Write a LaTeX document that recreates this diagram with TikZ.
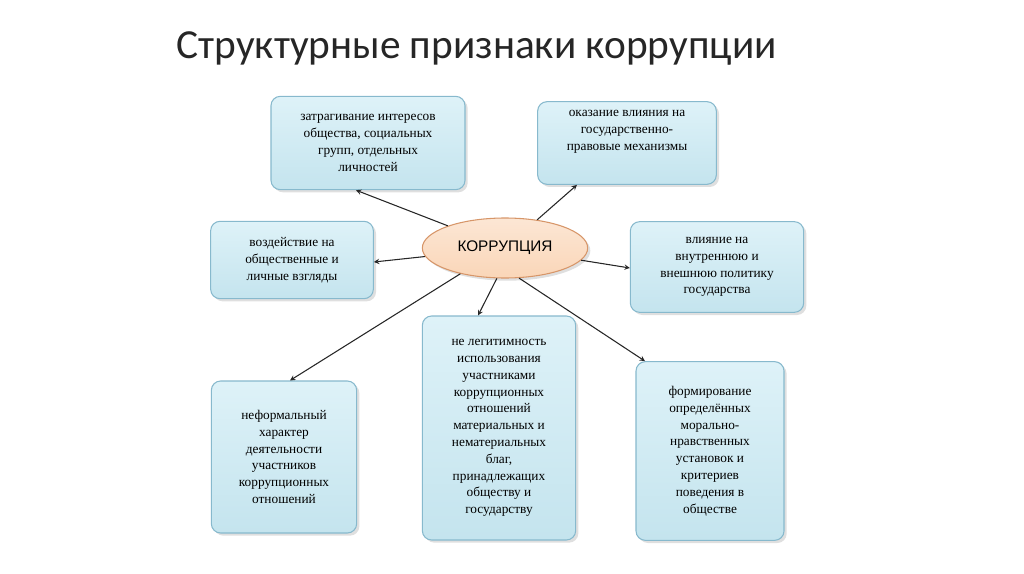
\documentclass[tikz,border=0pt]{standalone}
\usepackage{fontspec}
\setmainfont{Liberation Serif}
\newfontfamily\titlefont{Carlito}
\newfontfamily\ellfont{Liberation Sans}
\usetikzlibrary{shapes.geometric,shadows,calc}
\definecolor{boxfill}{RGB}{196,228,238}
\definecolor{boxtop}{RGB}{222,242,248}
\definecolor{boxline}{RGB}{135,185,205}
\definecolor{ellfill}{RGB}{250,214,184}
\definecolor{ellline}{RGB}{215,150,105}
\begin{document}
\begin{tikzpicture}[x=0.75pt,y=-0.75pt,
  infobox/.style={draw=boxline,line width=0.8pt,rounded corners=7pt,top color=boxtop,bottom color=boxfill,
    drop shadow={shadow xshift=2pt,shadow yshift=-2pt,opacity=0.25},
    align=center,font=\fontsize{10}{12.6}\selectfont,inner sep=2pt},
  conn/.style={-stealth,line width=0.8pt,black!85}]
\useasboundingbox (0,0) rectangle (1024,574);
\node[anchor=west,font=\titlefont\fontsize{31}{36}\selectfont,text=black!85] (title) at (172,48) {Структурные признаки коррупции};
\node[infobox,minimum width=145.5pt,minimum height=70pt] (b1) at (368,143) {затрагивание интересов\\общества, социальных\\групп, отдельных\\личностей};
\node[infobox,minimum width=134pt,minimum height=62pt] (b2) at (627,143) {оказание влияния на\\государственно-\\правовые механизмы\\[6pt]};
\node[infobox,minimum width=122pt,minimum height=58pt] (b3) at (292,260) {воздействие на\\общественные и\\личные взгляды};
\node[infobox,minimum width=130pt,minimum height=68pt] (b4) at (717,267) {влияние на\\внутреннюю и\\внешнюю политику\\государства};
\node[infobox,minimum width=109pt,minimum height=114pt] (b5) at (284,457) {неформальный\\характер\\деятельности\\участников\\коррупционных\\отношений};
\node[infobox,minimum width=115pt,minimum height=168pt] (b6) at (499,428) {не легитимность\\использования\\участниками\\коррупционных\\отношений\\материальных и\\нематериальных\\благ,\\принадлежащих\\обществу и\\государству};
\node[infobox,minimum width=111pt,minimum height=134pt] (b7) at (710,451) {формирование\\определённых\\морально-\\нравственных\\установок и\\критериев\\поведения в\\обществе};
\node[ellipse,draw=ellline,line width=0.8pt,top color=ellfill!60,bottom color=ellfill,minimum width=124pt,minimum height=45pt,
  font=\ellfont\fontsize{11.5}{14}\selectfont,drop shadow={shadow xshift=2pt,shadow yshift=-2pt,opacity=0.25}] (e) at (505,248) {КОРРУПЦИЯ};
\draw[conn] (e) -- ($(b1.south)+(-12,0)$);
\draw[conn] (e) -- ($(b2.south)+(-50,0)$);
\draw[conn] (e) -- ($(b3.east)+(0,2)$);
\draw[conn] (e) -- ($(b4.west)+(0,1)$);
\draw[conn] (e.210) -- ($(b5.north)+(6,0)$);
\draw[conn] (e.255) -- ($(b6.north)+(-21,0)$);
\draw[conn] (e.295) -- ($(b7.north)+(-65,0)$);
\end{tikzpicture}
\end{document}
